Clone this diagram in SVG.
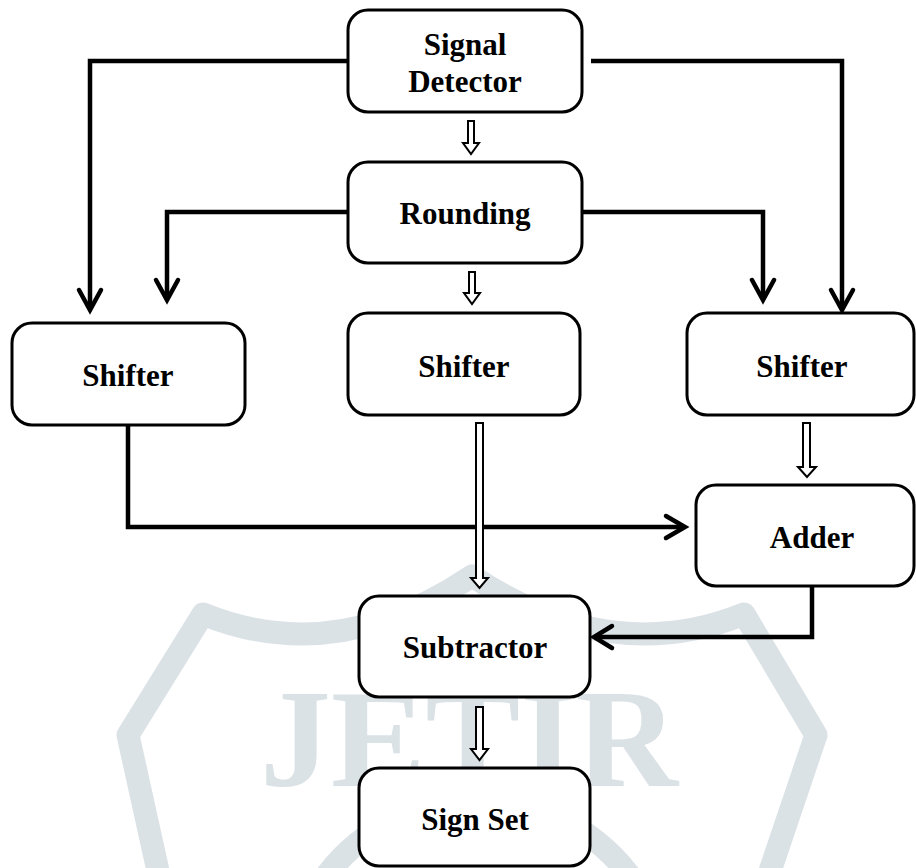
<svg xmlns="http://www.w3.org/2000/svg" width="916" height="868" viewBox="0 0 916 868">
<style>
.box{fill:#fff;stroke:#000;stroke-width:3}
.lbl{font-family:"Liberation Serif","Times New Roman",serif;font-weight:bold;font-size:31px;fill:#000;text-anchor:middle}
.wire{fill:none;stroke:#000;stroke-width:4.5;stroke-linejoin:miter}
.head{fill:none;stroke:#000;stroke-width:4.5;stroke-linecap:round;stroke-linejoin:miter}
.hollow{fill:#fff;stroke:#000;stroke-width:2;stroke-linejoin:miter}
.wm{fill:none;stroke:#dbe2e6;stroke-width:23;stroke-linejoin:round}
</style>
<rect width="916" height="868" fill="#fff"/>
<g id="watermark">
<path class="wm" d="M160,880 L128,735 L203,614 Q335,668 472,576 Q610,668 744,614 L816,735 L767,880"/>
<circle class="wm" cx="478" cy="990" r="190"/>
<text x="260" y="786" font-family="Liberation Serif, serif" font-weight="bold" font-size="140" fill="#dbe2e6" textLength="418" lengthAdjust="spacingAndGlyphs">JETIR</text>
</g>
<g id="connectors">
<path class="wire" d="M348,61 H90 V309"/>
<path class="head" d="M79,290 L90,310 L101,290"/>
<path class="wire" d="M348,212 H167 V299"/>
<path class="head" d="M156,280 L167,300 L178,280"/>
<path class="wire" d="M591,61 H842 V309"/>
<path class="head" d="M831,290 L842,310 L853,290"/>
<path class="wire" d="M582,212 H763 V299"/>
<path class="head" d="M752,280 L763,300 L774,280"/>
<path class="wire" d="M128,425 V527 H684"/>
<path class="head" d="M666,516 L685,527 L666,538"/>
<path class="wire" d="M812,586 V637 H595"/>
<path class="head" d="M612,626 L594,637 L612,648"/>
<path class="hollow" d="M468,121 H474 V143 H479 L471,154 L463,143 H468 Z"/>
<path class="hollow" d="M469,272 H475 V293 H480 L472,304 L464,293 H469 Z"/>
<path class="hollow" d="M476,423 H483 V578 H488 L479.5,588 L471,578 H476 Z"/>
<path class="hollow" d="M803,423 H810 V467 H816 L807,477 L798,467 H803 Z"/>
<path class="hollow" d="M476,707 H483 V749 H488 L479.5,760 L471,749 H476 Z"/>
</g>
<g id="signal-detector">
<rect class="box" x="348" y="10" width="234" height="102" rx="20" ry="20"/>
<text class="lbl" x="465" y="55">Signal</text>
<text class="lbl" x="465" y="92">Detector</text>
</g>
<g id="rounding">
<rect class="box" x="348" y="162" width="234" height="101" rx="20" ry="20"/>
<text class="lbl" x="465" y="224">Rounding</text>
</g>
<g id="shifter-left">
<rect class="box" x="12" y="323" width="233" height="102" rx="20" ry="20"/>
<text class="lbl" x="128" y="386">Shifter</text>
</g>
<g id="shifter-middle">
<rect class="box" x="348" y="313" width="232" height="102" rx="20" ry="20"/>
<text class="lbl" x="464" y="377">Shifter</text>
</g>
<g id="shifter-right">
<rect class="box" x="687" y="313" width="227" height="102" rx="20" ry="20"/>
<text class="lbl" x="802" y="377">Shifter</text>
</g>
<g id="adder">
<rect class="box" x="696" y="485" width="218" height="101" rx="20" ry="20"/>
<text class="lbl" x="812" y="548">Adder</text>
</g>
<g id="subtractor">
<rect class="box" x="359" y="596" width="231" height="101" rx="20" ry="20"/>
<text class="lbl" x="475" y="658">Subtractor</text>
</g>
<g id="sign-set">
<rect class="box" x="359" y="768" width="231" height="98" rx="20" ry="20"/>
<text class="lbl" x="475" y="830">Sign Set</text>
</g>
</svg>
